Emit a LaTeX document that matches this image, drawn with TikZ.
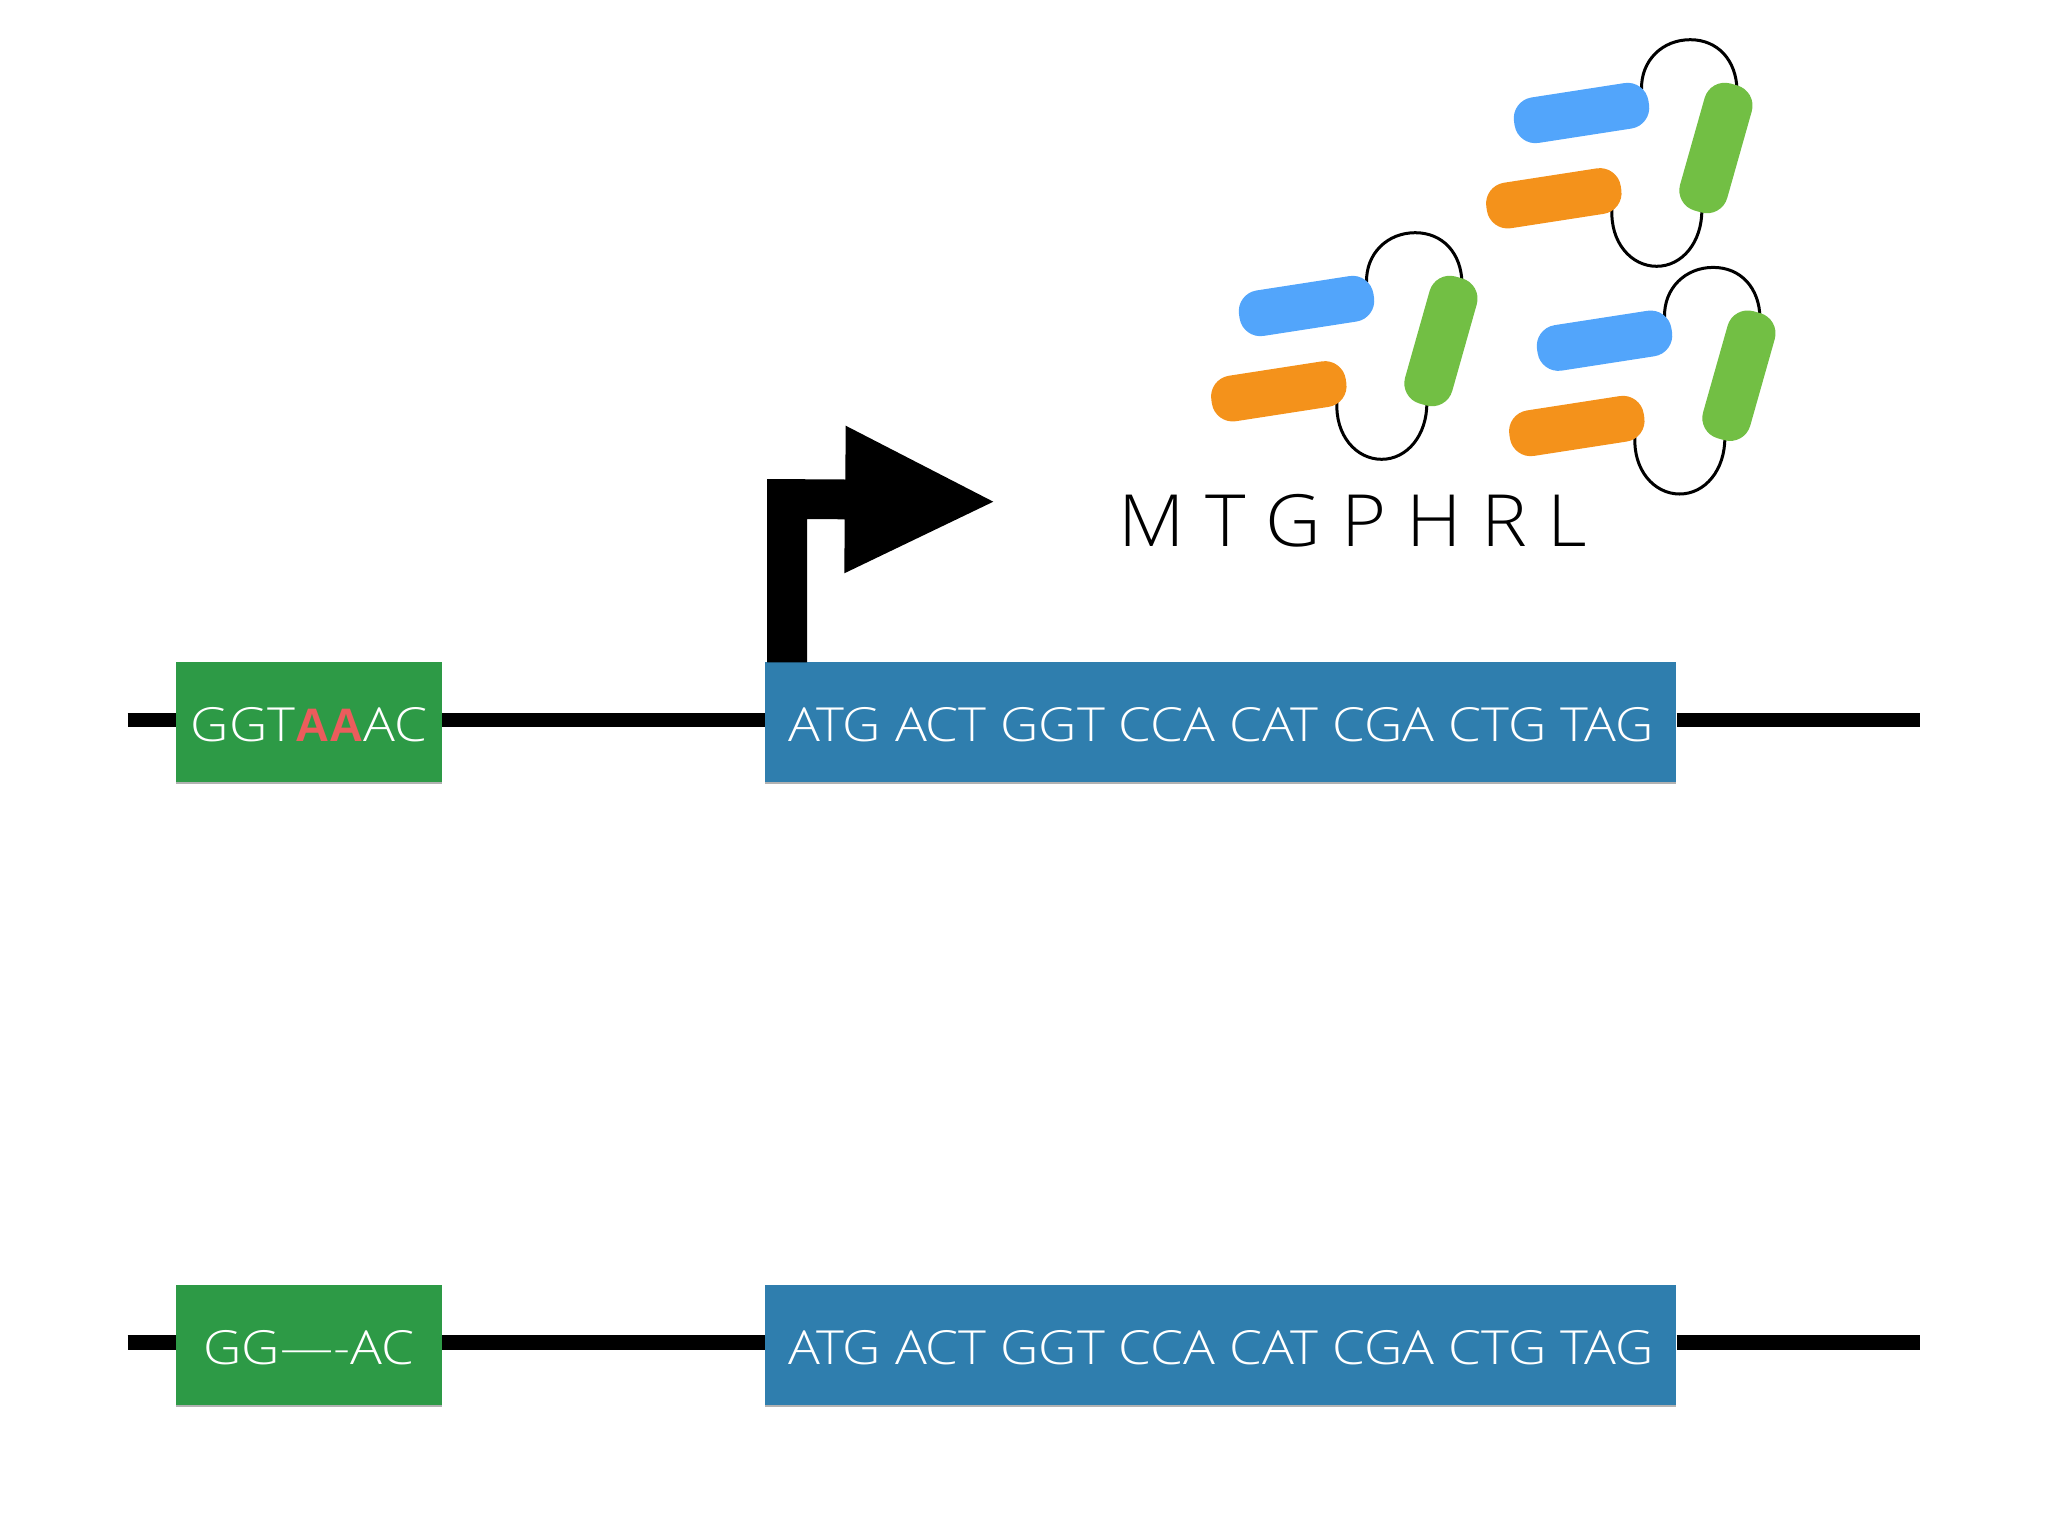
\documentclass[tikz,border=0pt]{standalone}
\usepackage{fontspec}
\setmainfont{Liberation Sans}
\newfontfamily\lightf[FakeStretch=1.13]{Open Sans Light}
\newfontfamily\pepf[FakeStretch=1.07]{Open Sans Light}
\usetikzlibrary{backgrounds}
\definecolor{gbox}{HTML}{2D9A46}
\definecolor{bbox}{HTML}{2F7EAE}
\definecolor{pblue}{HTML}{52A5FB}
\definecolor{porange}{HTML}{F4921B}
\definecolor{pgreen}{HTML}{72BF44}
\definecolor{redaa}{HTML}{EC5C5C}
\tikzset{
  x=0.5pt,y=-0.5pt,
  genebox/.style={inner sep=0pt,text=white,font=\lightf\fontsize{23.5}{24}\selectfont,minimum height=60pt,anchor=center,draw=none,text height=19.3pt,text depth=0pt},
  shadowbox/.style={fill=black!30,inner sep=0pt,minimum height=60pt},
  dna/.style={line width=7.2pt,black},
  loopline/.style={line width=1.5pt,black},
  hbar/.style={rounded corners=10.5pt,inner sep=0pt,minimum width=68pt,minimum height=23pt},
  vbar/.style={rounded corners=10.5pt,inner sep=0pt,minimum width=66pt,minimum height=24.5pt,fill=pgreen,rotate=74.2},
}
\begin{document}
\begin{tikzpicture}
\useasboundingbox (0,0) rectangle (2048,1536);
% free ends of the DNA lines
\coordinate (la) at (127.5,720);
\coordinate (ra) at (1920,720);
\coordinate (lb) at (127.5,1342.5);
\coordinate (rb) at (1920,1342.5);
% shadows
\node[shadowbox,minimum width=133pt] (gsa) at (309,724) {};
\node[shadowbox,minimum width=455.5pt] (bsa) at (1220.8,724) {};
\node[shadowbox,minimum width=133pt] (gsb) at (309,1346.5) {};
\node[shadowbox,minimum width=455.5pt] (bsb) at (1220.8,1346.5) {};
% boxes
\node[genebox,fill=gbox,minimum width=133pt] (ga) at (309,722.3) {GGT{\color{redaa}\fontspec{Liberation Sans Bold}AA}AC};
\node[genebox,fill=bbox,minimum width=455.5pt] (ba) at (1220.8,722.3) {ATG ACT GGT CCA CAT CGA CTG TAG};
\node[genebox,fill=gbox,minimum width=133pt] (gb) at (309,1344.7) {GG—-AC};
\node[genebox,fill=bbox,minimum width=455.5pt] (bb) at (1220.8,1344.7) {ATG ACT GGT CCA CAT CGA CTG TAG};
% DNA
\draw[dna] (la) -- (la -| ga.west);
\draw[dna] (la -| ga.east) -- (la -| ba.west);
\draw[dna] (la -| ba.east) -- (ra);
\draw[dna] (lb) -- (lb -| gb.west);
\draw[dna] (lb -| gb.east) -- (lb -| bb.west);
\draw[dna] (lb -| bb.east) -- (rb);
% promoter arrow
\fill[black] (767,479) -- (845.3,479.5) -- (845.7,425.7) -- (993.3,501.7) -- (844.3,573.3) -- (844.7,519.3) -- (807,519) -- (807,662.3) -- (767,662.3) -- cycle;
% peptide
\node[font=\pepf\fontsize{36}{36}\selectfont,inner sep=0pt] (pep) at (1353,521) {M T G P H R L};
% proteins
\foreach \i/\dx/\dy in {a/0/0,b/275/-193,c/298/34.7}{
\begin{scope}[shift={(\dx,\dy)}]
  \node[hbar,fill=pblue,rotate=8.8] (blue\i) at (1306.5,306) {};
  \node[hbar,fill=porange,rotate=8.8] (orange\i) at (1278.8,391.3) {};
  \node[vbar] (green\i) at (1440.9,341) {};
  \begin{pgfonlayer}{background}
    \draw[loopline] ([xshift=-2pt,yshift=-5pt]blue\i.north east) .. controls (1365.8,253.3) and (1387.5,232.7) .. (1415.2,232.7)
       .. controls (1442.8,232.7) and (1461.4,253.3) .. ([xshift=1.5pt,yshift=-3pt]green\i.east);
    \draw[loopline] ([xshift=-6.5pt,yshift=1pt]orange\i.south east) .. controls (1335,435) and (1355.9,459.3) .. (1381.6,459.3)
       .. controls (1407.3,459.3) and (1427,435) .. ([xshift=2pt,yshift=1pt]green\i.west);
  \end{pgfonlayer}
\end{scope}
}
\end{tikzpicture}
\end{document}
